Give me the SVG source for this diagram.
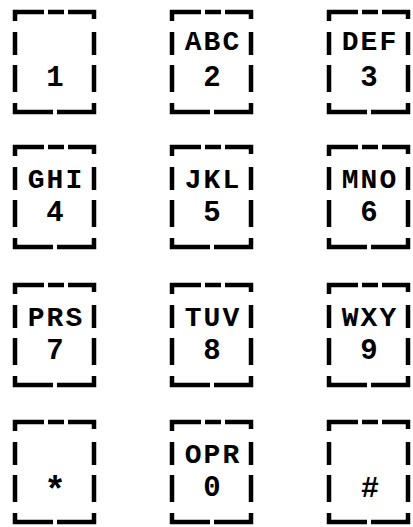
<svg xmlns="http://www.w3.org/2000/svg" width="413" height="527" viewBox="0 0 413 527">
<style>
.b{fill:none;stroke:#000;stroke-width:4.5;stroke-linejoin:miter}
.t{font-family:"Liberation Mono","DejaVu Sans Mono",monospace;font-weight:bold;font-size:29px;fill:#000;text-anchor:middle}
.l{font-size:28px;letter-spacing:2px}
</style>
<defs>
<symbol id="key" overflow="visible">
<path class="b" d="M0,9 V0 H29 M33,0 H49 M53,0 H79 V7 M0,20 V43 M0,53 V80 M79,20 V43 M79,53 V80 M0,91 V100 H38 M42,100 H79 V91"/>
</symbol>
</defs>
<rect width="413" height="527" fill="#fff"/>
<g id="key1"><use href="#key" x="15" y="12"/><text class="t" x="55" y="86">1</text></g>
<g id="key2"><use href="#key" x="172" y="12"/><text class="t l" x="213" y="50">ABC</text><text class="t" x="212" y="86">2</text></g>
<g id="key3"><use href="#key" x="329" y="12"/><text class="t l" x="370" y="50">DEF</text><text class="t" x="369" y="86">3</text></g>
<g id="key4"><use href="#key" x="15" y="147"/><text class="t l" x="56" y="188">GHI</text><text class="t" x="55" y="221">4</text></g>
<g id="key5"><use href="#key" x="172" y="147"/><text class="t l" x="213" y="188">JKL</text><text class="t" x="212" y="221">5</text></g>
<g id="key6"><use href="#key" x="329" y="147"/><text class="t l" x="370" y="188">MNO</text><text class="t" x="369" y="221">6</text></g>
<g id="key7"><use href="#key" x="15" y="285"/><text class="t l" x="56" y="326">PRS</text><text class="t" x="55" y="359">7</text></g>
<g id="key8"><use href="#key" x="172" y="285"/><text class="t l" x="213" y="326">TUV</text><text class="t" x="212" y="359">8</text></g>
<g id="key9"><use href="#key" x="329" y="285"/><text class="t l" x="370" y="326">WXY</text><text class="t" x="369" y="359">9</text></g>
<g id="keystar"><use href="#key" x="15" y="422"/><text class="t" x="55" y="502" style="font-size:36px">*</text></g>
<g id="key0"><use href="#key" x="172" y="422"/><text class="t l" x="213" y="463">OPR</text><text class="t" x="212" y="496">0</text></g>
<g id="keyhash"><use href="#key" x="329" y="422"/><text class="t" x="370" y="497" style="font-size:30px">#</text></g>
</svg>
